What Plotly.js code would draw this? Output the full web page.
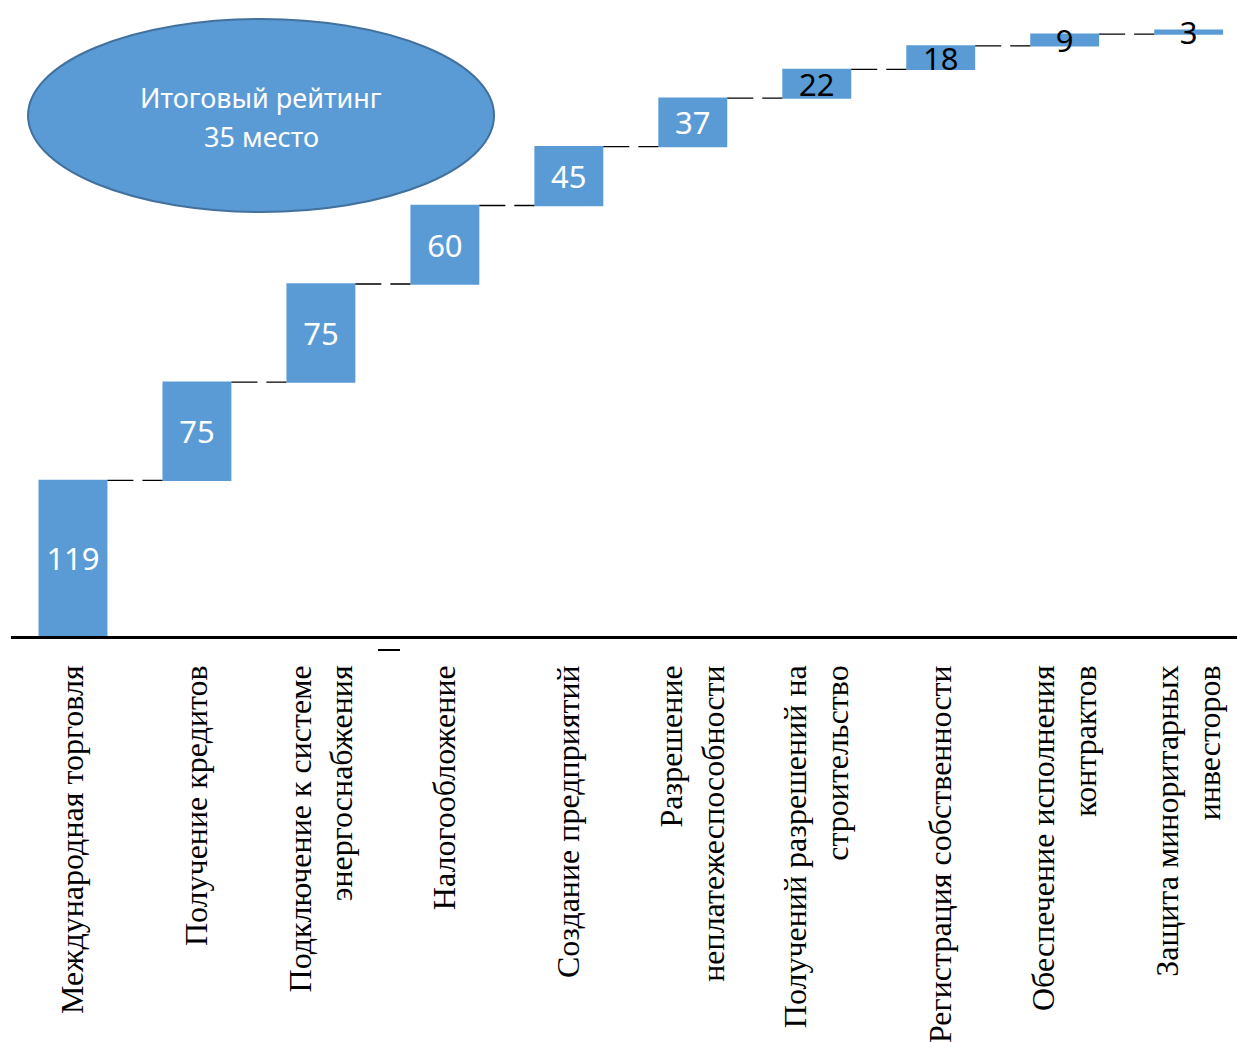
<!DOCTYPE html>
<html>
<head>
<meta charset="utf-8">
<script src="https://cdn.plot.ly/plotly-3.0.1.min.js"></script>
<style>
  html, body { margin: 0; padding: 0; background: #fff; overflow: hidden; }
  #chart { width: 1237px; height: 1042px; }
</style>
</head>
<body>
<div id="chart"></div>
<script>
const categories = [
  "Международная торговля",
  "Получение кредитов",
  "Подключение к системе<br>энергоснабжения",
  "Налогообложение",
  "Создание предприятий",
  "Разрешение<br>неплатежеспособности",
  "Получений разрешений на<br>строительство",
  "Регистрация собственности",
  "Обеспечение исполнения<br>контрактов",
  "Защита миноритарных<br>инвесторов"
];
const values = [119, 75, 75, 60, 45, 37, 22, 18, 9, 3];
const labelColors = ["#ffffff","#ffffff","#ffffff","#ffffff","#ffffff","#ffffff","#000000","#000000","#000000","#000000"];
const summaryLines = ["Итоговый рейтинг", "35 место"];

const trace = {
  type: "waterfall",
  x: categories,
  y: values,
  measure: values.map(() => "relative"),
  text: values.map(String),
  textposition: "inside",
  insidetextanchor: "middle",
  textangle: 0,
  constraintext: "none",
  textfont: { family: "Noto Sans, sans-serif", size: 31, color: labelColors },
  increasing: { marker: { color: "#5B9BD5" } },
  decreasing: { marker: { color: "#5B9BD5" } },
  totals: { marker: { color: "#5B9BD5" } },
  connector: { mode: "between", line: { color: "#000000", width: 1.3, dash: "26px,9px" } },
  hoverinfo: "skip",
  cliponaxis: false
};

const summaryFont = { family: "Noto Sans, sans-serif", size: 27, color: "#ffffff" };

const layout = {
  width: 1237,
  height: 1042,
  margin: { l: 11, r: 0, t: 21, b: 406 },
  paper_bgcolor: "#ffffff",
  plot_bgcolor: "#ffffff",
  showlegend: false,
  waterfallgap: 0.444,
  xaxis: {
    type: "category",
    range: [-0.5, 9.39],
    showline: true,
    linecolor: "#000000",
    linewidth: 2.5,
    showgrid: false,
    zeroline: false,
    ticks: "",
    tickangle: -90,
    ticklabelstandoff: 14,
    tickfont: { family: "Liberation Serif, Times New Roman, serif", size: 32, color: "#000000" }
  },
  yaxis: {
    range: [0, 470],
    visible: false,
    showgrid: false,
    zeroline: false
  },
  shapes: [
    {
      type: "circle", xref: "paper", yref: "paper",
      x0: 0.0139, x1: 0.394, y0: 0.6894, y1: 1.0033,
      fillcolor: "#5B9BD5",
      line: { color: "#41719C", width: 2 },
      layer: "above"
    },
    {
      type: "line", xref: "paper", yref: "paper",
      x0: 0.2993, x1: 0.3173, y0: -0.0228, y1: -0.0228,
      line: { color: "#000000", width: 2 }
    }
  ],
  annotations: [
    {
      xref: "paper", yref: "paper",
      x: 0.204, y: 0.8764,
      xanchor: "center", yanchor: "middle",
      text: summaryLines[0],
      showarrow: false,
      font: summaryFont
    },
    {
      xref: "paper", yref: "paper",
      x: 0.204, y: 0.8114,
      xanchor: "center", yanchor: "middle",
      text: summaryLines[1],
      showarrow: false,
      font: summaryFont
    }
  ]
};

Plotly.newPlot("chart", [trace], layout, { displayModeBar: false, staticPlot: true });
</script>
</body>
</html>
